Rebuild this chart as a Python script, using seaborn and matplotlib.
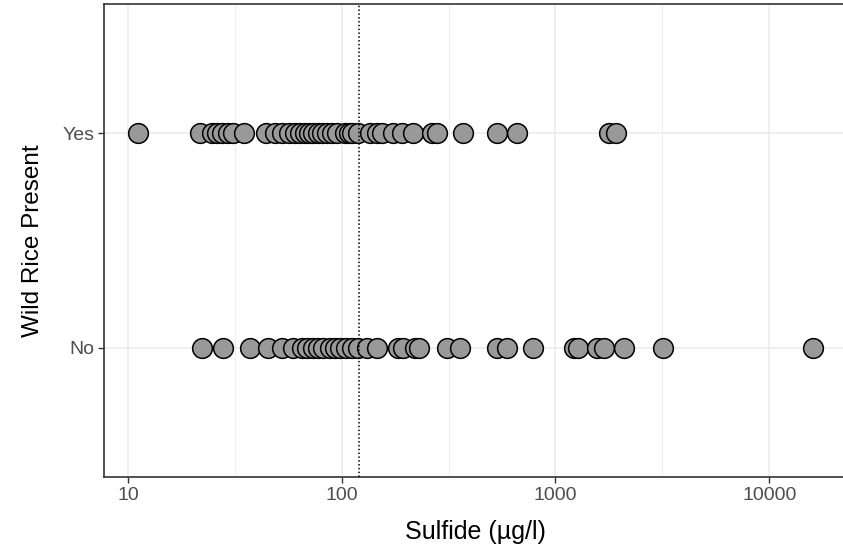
import numpy as np
import pandas as pd
import matplotlib
matplotlib.use("Agg")
import matplotlib.pyplot as plt
import seaborn as sns

# Sulfide concentrations (µg/l) at sites with and without wild rice
sulfide_yes = [11.1, 21.7, 24.7, 26.1, 27.5, 29.3, 31.0, 34.9, 44.2, 48.6, 52.5,
               56.5, 60.3, 63.6, 67.1, 70.1, 73.2, 77.2, 80.6, 85.1, 89.8, 94.8,
               103, 108, 112, 119, 135, 146, 154, 173, 191, 215, 263, 278, 368,
               535, 664, 1786, 1928]
sulfide_no = [22.2, 27.8, 37.2, 45.1, 52.5, 59.1, 65.0, 68.6, 73.2, 77.2, 81.5,
              87.9, 92.7, 97.9, 105, 112, 119, 131, 146, 183, 193, 219, 231, 310,
              356, 530, 590, 781, 1227, 1268, 1571, 1694, 2100, 3199, 16070]
categories = ["Yes", "No"]
threshold = 120
tick_values = [10, 100, 1000, 10000]
tick_labels = ["10", "100", "1000", "10000"]

df = pd.DataFrame({
    "Sulfide": sulfide_yes + sulfide_no,
    "Wild Rice Present": ["Yes"] * len(sulfide_yes) + ["No"] * len(sulfide_no),
})

sns.set_style("white")
plt.rcParams["font.family"] = ["Liberation Sans", "DejaVu Sans"]

fig = plt.figure(figsize=(8.43, 5.54), dpi=100)
ax = fig.add_axes([104 / 843, 1 - 477 / 554, 743 / 843, 473 / 554])

sns.stripplot(data=df, x="Sulfide", y="Wild Rice Present", order=categories,
              jitter=False, log_scale=True, ax=ax, size=14.2,
              color="#999999", edgecolor="black", linewidth=1.1, zorder=3)

# axis limits with 5% padding on the log scale
lo, hi = np.log10(min(df["Sulfide"])), np.log10(max(df["Sulfide"]))
pad = (hi - lo) * 0.05
ax.set_xlim(10 ** (lo - pad), 10 ** (hi + pad))
ax.set_ylim(1.6, -0.6)

# grid: major and minor (half-decade) lines
for v in tick_values:
    ax.axvline(v, color="#ebebeb", lw=1.1, zorder=0)
for e in [0.5, 1.5, 2.5, 3.5, 4.5]:
    ax.axvline(10 ** e, color="#ebebeb", lw=0.6, zorder=0)
for yv in [0, 1]:
    ax.axhline(yv, color="#ebebeb", lw=1.1, zorder=0)

ax.axvline(threshold, color="black", lw=1.1, linestyle=(0, (1, 1.5)), zorder=4)

ax.set_xticks(tick_values)
ax.set_xticklabels(tick_labels)
ax.xaxis.set_minor_locator(matplotlib.ticker.NullLocator())
ax.tick_params(axis="both", which="major", direction="out", length=4, width=1,
               color="#333333", labelcolor="#4d4d4d", labelsize=14, pad=3,
               left=True, bottom=True)

for side in ["left", "bottom", "top", "right"]:
    ax.spines[side].set_color("#333333")
    ax.spines[side].set_linewidth(1.2)
    ax.spines[side].set_visible(True)

ax.set_xlabel("Sulfide (µg/l)", fontsize=18, color="black", labelpad=12)
ax.set_ylabel("Wild Rice Present", fontsize=17.5, color="black", labelpad=13)

fig.savefig("out.png", dpi=100)
